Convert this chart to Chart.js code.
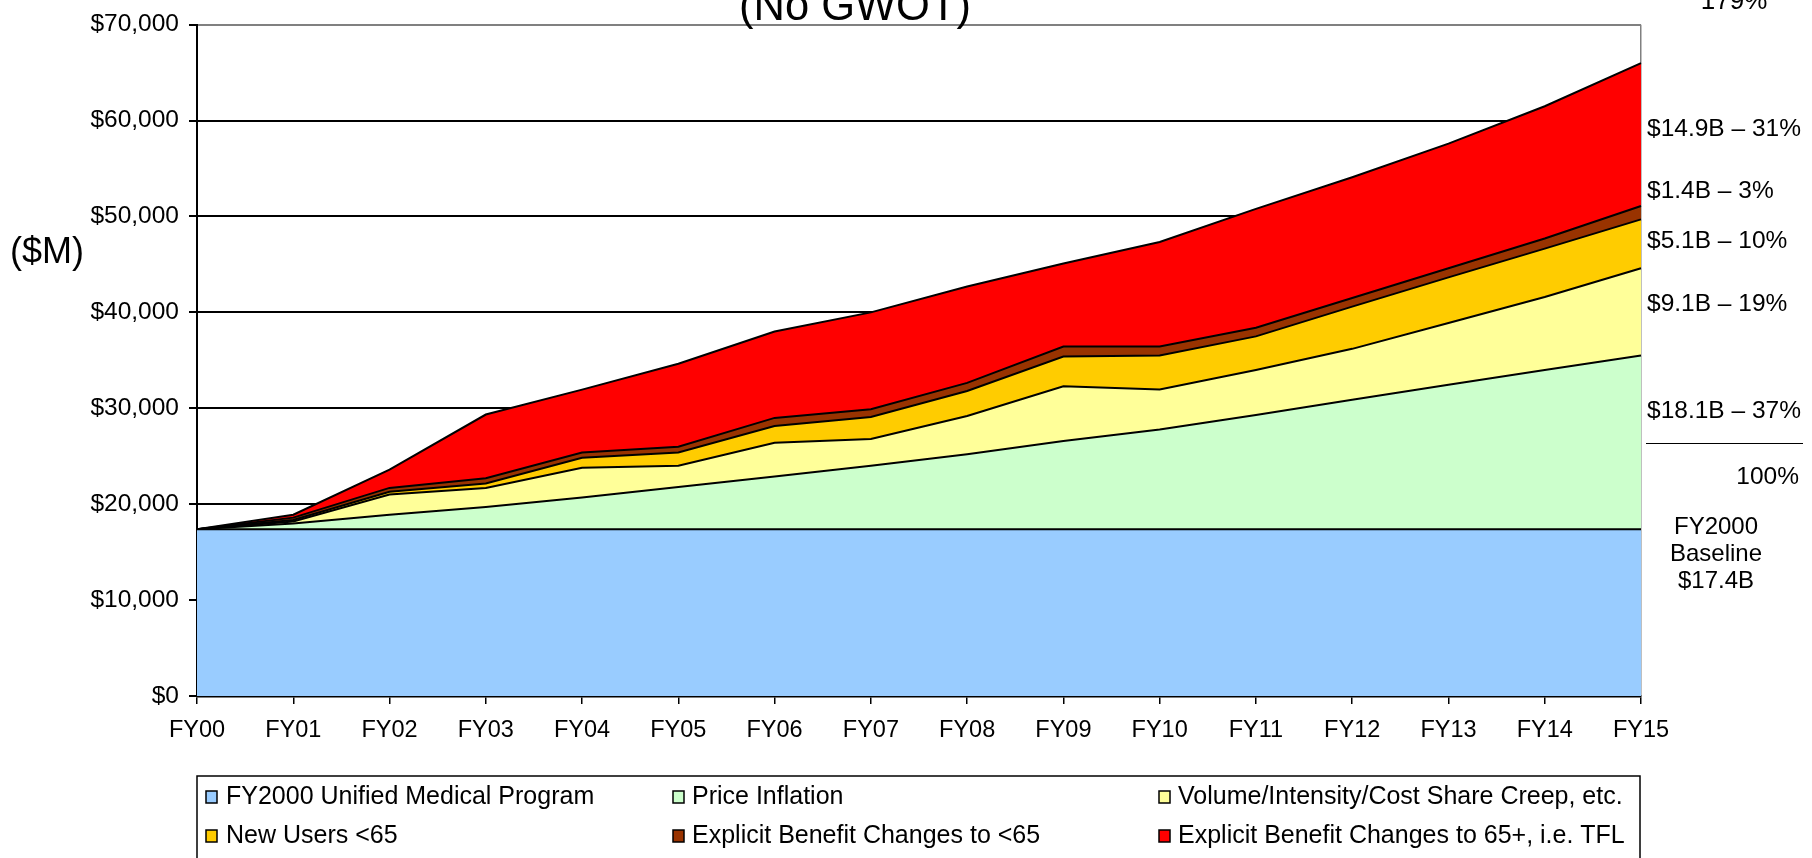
<!DOCTYPE html>
<html>
<head>
<meta charset="utf-8">
<script src="https://cdn.jsdelivr.net/npm/chart.js@4.4.1/dist/chart.umd.min.js"></script>
<style>
  html, body { margin: 0; padding: 0; background: #fff; overflow: hidden; }
  #wrap { position: relative; width: 1812px; height: 858px; }
</style>
</head>
<body>
<div id="wrap"><canvas id="chart"></canvas></div>
<script>
// ── Data ($M) ───────────────────────────────────────────────────────────────
const years = ['FY00', 'FY01', 'FY02', 'FY03', 'FY04', 'FY05', 'FY06', 'FY07',
               'FY08', 'FY09', 'FY10', 'FY11', 'FY12', 'FY13', 'FY14', 'FY15'];

const baseline       = [17400, 17400, 17400, 17400, 17400, 17400, 17400, 17400,
                        17400, 17400, 17400, 17400, 17400, 17400, 17400, 17400];
const priceInflation = [0, 600, 1500, 2300, 3300, 4400, 5500, 6600,
                        7800, 9200, 10400, 11900, 13500, 15050, 16600, 18100];
const volumeCreep    = [0, 200, 2100, 2000, 3100, 2200, 3500, 2800,
                        4000, 5700, 4150, 4700, 5300, 6450, 7600, 9100];
const newUsers       = [0, 150, 300, 450, 1050, 1400, 1750, 2300,
                        2600, 3100, 3550, 3500, 4400, 4750, 5050, 5100];
const benefitUnder65 = [0, 250, 400, 550, 550, 600, 850, 800,
                        850, 1050, 950, 900, 900, 950, 1050, 1400];
const benefit65Plus  = [0, 300, 1900, 6650, 6550, 8650, 9000, 10100,
                        10050, 8650, 10900, 12400, 12600, 13000, 13800, 14900];

const seriesNames = [
  'FY2000 Unified Medical Program',
  'Price Inflation',
  'Volume/Intensity/Cost Share Creep, etc.',
  'New Users <65',
  'Explicit Benefit Changes to <65',
  'Explicit Benefit Changes to 65+, i.e. TFL',
];
const seriesColors = ['#99CCFF', '#CCFFCC', '#FFFF99', '#FFCC00', '#993300', '#FF0000'];

const yTicks = [0, 10000, 20000, 30000, 40000, 50000, 60000, 70000];

const titleText  = '(No GWOT)';
const topNote    = '179%';
const yTitle     = '($M)';
const shareNotes = ['$14.9B – 31%', '$1.4B – 3%', '$5.1B – 10%', '$9.1B – 19%', '$18.1B – 37%'];
const totalNote  = '100%';
const baseNote   = ['FY2000', 'Baseline', '$17.4B'];

// ── Helpers ─────────────────────────────────────────────────────────────────
const FONT = "'Liberation Sans', Arial, Helvetica, sans-serif";

function fmtMoney(v) { return '$' + Number(v).toLocaleString('en-US'); }

function txt(ctx, s, x, y, size, align, base) {
  ctx.font = size + 'px ' + FONT;
  ctx.textAlign = align || 'left';
  ctx.textBaseline = base || 'middle';
  ctx.fillText(s, x, y);
}

// Side texts + boxed legend, drawn straight onto the canvas
const notesPlugin = {
  id: 'notes',
  afterDraw(chart) {
    const ctx = chart.ctx;
    ctx.save();
    ctx.fillStyle = '#000';

    txt(ctx, titleText, 855, 20, 43.5, 'center', 'alphabetic');
    txt(ctx, topNote, 1734, 9, 26, 'center', 'alphabetic');
    txt(ctx, yTitle, 10, 253, 36, 'left');

    const noteY = [129, 191, 241, 304, 411];
    shareNotes.forEach((s, i) => txt(ctx, s, 1647, noteY[i], 24.5, 'left'));
    ctx.strokeStyle = '#000';
    ctx.lineWidth = 1;
    ctx.beginPath(); ctx.moveTo(1646, 443.5); ctx.lineTo(1803, 443.5); ctx.stroke();
    txt(ctx, totalNote, 1799, 477, 24.5, 'right');
    baseNote.forEach((s, i) => txt(ctx, s, 1716, 527 + i * 27, 24, 'center'));

    // legend
    const rowY  = [797, 836];
    const markX = [206, 673, 1159];
    const textX = [226, 692, 1178];
    ctx.strokeStyle = '#000';
    ctx.lineWidth = 1.5;
    ctx.strokeRect(197, 776, 1443, 100);
    chart.data.datasets.forEach((ds, i) => {
      const col = i % 3, row = Math.floor(i / 3);
      const y = rowY[row];
      ctx.fillStyle = ds.backgroundColor;
      ctx.fillRect(markX[col], y - 6, 11, 12);
      ctx.strokeRect(markX[col], y - 6, 11, 12);
      ctx.fillStyle = '#000';
      txt(ctx, ds.label, textX[col], y, 25, 'left');
    });
    ctx.restore();
  }
};

// ── Chart ───────────────────────────────────────────────────────────────────
const seriesData = [baseline, priceInflation, volumeCreep, newUsers, benefitUnder65, benefit65Plus];

const datasets = seriesData.map((d, i) => ({
  label: seriesNames[i],
  data: d,
  backgroundColor: seriesColors[i],
  borderColor: '#000',
  borderWidth: 2,
  fill: i === 0 ? 'origin' : '-1',
  pointRadius: 0,
  pointHoverRadius: 0,
  tension: 0,
}));

Chart.defaults.font.family = FONT;
Chart.defaults.color = '#000';

new Chart(document.getElementById('chart').getContext('2d'), {
  type: 'line',
  data: { labels: years, datasets },
  options: {
    responsive: true,
    maintainAspectRatio: false,
    animation: false,
    layout: { padding: { left: 0, right: 171, top: 23, bottom: 0 } },
    plugins: {
      legend: { display: false },
      tooltip: { enabled: false },
      title: { display: false },
    },
    scales: {
      x: {
        offset: false,
        afterFit: s => { s.height = 162; },
        ticks: { font: { size: 23.5 }, color: '#000', padding: 12, maxRotation: 0, autoSkip: false },
        grid: {
          color: c => (c.index === years.length - 1 ? '#808080' : 'rgba(0,0,0,0)'),
          tickColor: '#000',
          tickLength: 8,
          lineWidth: 1.5,
        },
        border: { color: '#000', width: 2.5 },
      },
      y: {
        stacked: true,
        min: 0,
        max: 70000,
        afterFit: s => { s.width = 197; },
        afterBuildTicks: s => { s.ticks = yTicks.map(v => ({ value: v })); },
        ticks: { font: { size: 24.5 }, color: '#000', padding: 10, callback: fmtMoney },
        grid: {
          color: c => (c.tick && c.tick.value === 70000 ? '#808080' : '#000'),
          tickColor: '#000',
          tickLength: 8,
          lineWidth: 2,
        },
        border: { color: '#000', width: 2 },
      },
    },
  },
  plugins: [notesPlugin],
});
</script>
</body>
</html>
